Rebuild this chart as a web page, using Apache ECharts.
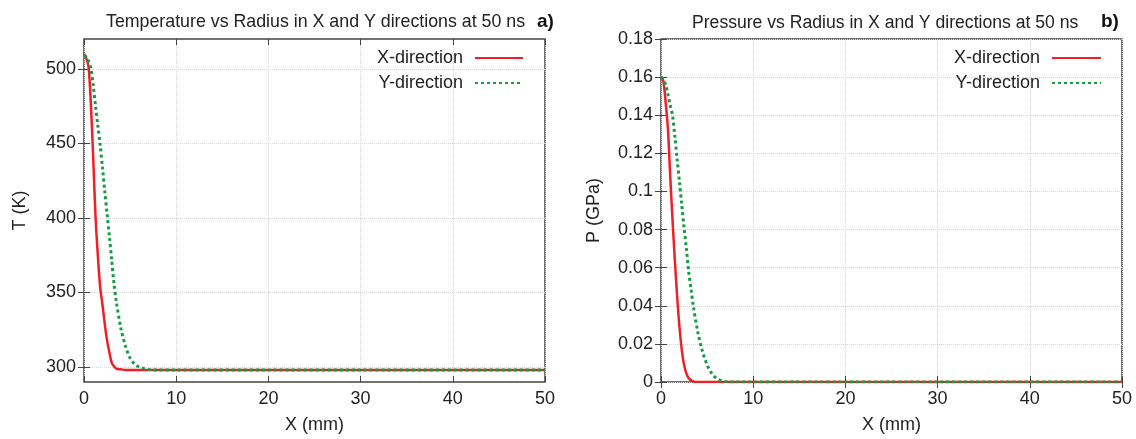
<!DOCTYPE html>
<html>
<head>
<meta charset="utf-8">
<script src="https://cdn.jsdelivr.net/npm/echarts@6/dist/echarts.min.js"></script>
<style>
html, body { margin: 0; padding: 0; background: #fff; }
#main { width: 1136px; height: 439px; }
</style>
</head>
<body>
<div id="main"></div>
<script>
// radius (mm), shared by all four curves
var radius = [0, 0.25, 0.5, 0.75, 1, 1.25, 1.5, 1.75, 2, 2.25, 2.5, 2.75, 3, 3.25, 3.5, 4, 4.5, 5, 5.5, 6, 6.5, 7, 8, 10, 20, 30, 40, 50];

// temperature (K)
var tempX = [510, 507, 501, 476, 440, 401, 375, 354, 342, 329, 318, 310, 303, 300.5, 299, 298.5, 298, 298, 298, 298, 298, 298, 298, 298, 298, 298, 298, 298];
var tempY = [509, 508, 505, 500, 489, 475, 462, 449, 434, 418, 403, 388, 372, 356, 344, 326, 314, 306, 302, 300, 299, 298.3, 298, 298, 298, 298, 298, 298];

// pressure (GPa)
var presX = [0.16, 0.158, 0.147, 0.133, 0.108, 0.085, 0.064, 0.045, 0.029, 0.017, 0.009, 0.0045, 0.002, 0.001, 0.0003, 0, 0, 0, 0, 0, 0, 0, 0, 0, 0, 0, 0, 0];
var presY = [0.16, 0.159, 0.156, 0.151, 0.145, 0.14, 0.129, 0.117, 0.105, 0.093, 0.081, 0.07, 0.058, 0.049, 0.04, 0.026, 0.016, 0.009, 0.0045, 0.002, 0.0008, 0.0002, 0, 0, 0, 0, 0, 0];

var tempTicks = [300, 350, 400, 450, 500];

function pairs(xs, ys) {
	var out = [];
	for (var i = 0; i < xs.length; i++) {
		out.push([xs[i], ys[i]]);
	}
	return out;
}

var myChart = echarts.init(document.getElementById('main'));

var FONT = 'Liberation Sans, Arial, sans-serif';
var border = '#444';
var red = '#ee1f26';
var green = '#159a45';
var LBL = 18;

var gridLine = { show: true, lineStyle: { color: '#d6d6d6', type: 'dotted', width: 1 } };

function xAxisMain(gi) {
	return {
		type: 'value', gridIndex: gi, min: 0, max: 50, interval: 10,
		name: 'X (mm)', nameLocation: 'middle', nameGap: 34,
		nameTextStyle: { fontFamily: FONT, fontSize: LBL, color: '#222' },
		axisLine: { show: false },
		axisTick: { inside: true, length: 6, lineStyle: { color: border } },
		axisLabel: { fontFamily: FONT, fontSize: LBL, color: '#222', margin: 8 },
		splitLine: gridLine
	};
}
function xAxisMirror(gi) {
	return {
		type: 'value', gridIndex: gi, position: 'top', min: 0, max: 50, interval: 10,
		axisLine: { show: false },
		axisTick: { inside: true, length: 6, lineStyle: { color: border } },
		axisLabel: { show: false },
		splitLine: { show: false }
	};
}

// legend: line sample only, no symbol
function legendAt(right, w) {
	return {
		orient: 'vertical', right: right, top: 44, align: 'right',
		itemWidth: w, itemHeight: 10, itemGap: 7,
		itemStyle: { opacity: 0 },
		textStyle: { fontFamily: FONT, fontSize: LBL, color: '#222', padding: [0, 7, 0, 0] },
		data: ['X-direction', 'Y-direction']
	};
}

var option = {
	animation: false,
	textStyle: { fontFamily: FONT },
	title: [
		{ text: 'Temperature vs Radius in X and Y directions at 50 ns', left: 101, top: 8,
			textStyle: { fontFamily: FONT, fontSize: 17.8, fontWeight: 'normal', color: '#222' } },
		{ text: 'a)', left: 532, top: 7,
			textStyle: { fontFamily: FONT, fontSize: 19, fontWeight: 'bold', color: '#111' } },
		{ text: 'Pressure vs Radius in X and Y directions at 50 ns', left: 687, top: 9,
			textStyle: { fontFamily: FONT, fontSize: 17.6, fontWeight: 'normal', color: '#222' } },
		{ text: 'b)', left: 1096, top: 7,
			textStyle: { fontFamily: FONT, fontSize: 19, fontWeight: 'bold', color: '#111' } }
	],
	legend: [legendAt(607, 48), legendAt(29, 49)],
	grid: [
		{ left: 84, right: 591, top: 39, bottom: 53, show: true, borderColor: border, borderWidth: 1.5 },
		{ left: 661, right: 14, top: 39, bottom: 54, show: true, borderColor: border, borderWidth: 1.5 }
	],
	xAxis: [xAxisMain(0), xAxisMirror(0), xAxisMain(1), xAxisMirror(1)],
	yAxis: [
		{
			type: 'value', gridIndex: 0, min: 290, max: 520,
			name: 'T (K)', nameLocation: 'middle', nameGap: 55, nameRotate: 90,
			nameTextStyle: { fontFamily: FONT, fontSize: LBL, color: '#222' },
			axisLine: { show: false },
			axisTick: { inside: true, length: 6, customValues: tempTicks, lineStyle: { color: border } },
			axisLabel: { fontFamily: FONT, fontSize: LBL, color: '#222', margin: 8, customValues: tempTicks },
			splitLine: gridLine
		},
		{
			type: 'value', gridIndex: 0, position: 'right', min: 290, max: 520,
			axisLine: { show: false },
			axisTick: { inside: true, length: 6, customValues: tempTicks, lineStyle: { color: border } },
			axisLabel: { show: false, customValues: tempTicks },
			splitLine: { show: false }
		},
		{
			type: 'value', gridIndex: 1, min: 0, max: 0.18, interval: 0.02,
			name: 'P (GPa)', nameLocation: 'middle', nameGap: 58, nameRotate: 90,
			nameTextStyle: { fontFamily: FONT, fontSize: LBL, color: '#222' },
			axisLine: { show: false },
			axisTick: { inside: true, length: 6, lineStyle: { color: border } },
			axisLabel: { fontFamily: FONT, fontSize: LBL, color: '#222', margin: 8 },
			splitLine: gridLine
		},
		{
			type: 'value', gridIndex: 1, position: 'right', min: 0, max: 0.18, interval: 0.02,
			axisLine: { show: false },
			axisTick: { inside: true, length: 6, lineStyle: { color: border } },
			axisLabel: { show: false },
			splitLine: { show: false }
		}
	],
	series: [
		{ name: 'X-direction', type: 'line', xAxisIndex: 0, yAxisIndex: 0, data: pairs(radius, tempX),
			symbol: 'none', smooth: 0.3, z: 3, lineStyle: { color: red, width: 2.5 }, itemStyle: { color: red } },
		{ name: 'Y-direction', type: 'line', xAxisIndex: 0, yAxisIndex: 0, data: pairs(radius, tempY),
			symbol: 'none', smooth: 0.3, z: 4, lineStyle: { color: green, width: 3, type: [3, 3] }, itemStyle: { color: green } },
		{ name: 'X-direction', type: 'line', xAxisIndex: 2, yAxisIndex: 2, data: pairs(radius, presX),
			symbol: 'none', smooth: 0.3, z: 3, lineStyle: { color: red, width: 2.5 }, itemStyle: { color: red } },
		{ name: 'Y-direction', type: 'line', xAxisIndex: 2, yAxisIndex: 2, data: pairs(radius, presY),
			symbol: 'none', smooth: 0.3, z: 4, lineStyle: { color: green, width: 3, type: [3, 3] }, itemStyle: { color: green } }
	]
};

myChart.setOption(option);
</script>
</body>
</html>
